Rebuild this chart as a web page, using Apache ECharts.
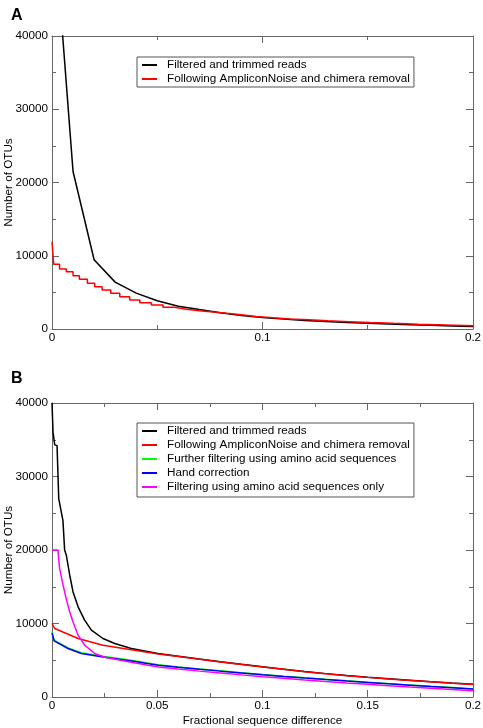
<!DOCTYPE html>
<html>
<head>
<meta charset="utf-8">
<script src="https://cdn.jsdelivr.net/npm/echarts@6/dist/echarts.min.js"></script>
<style>
html,body{margin:0;padding:0;background:#fff;}
#chart{width:483px;height:728px;}
</style>
</head>
<body>
<div id="chart"></div>
<script>
// ---------- Series names ----------
const nameBlack = 'Filtered and trimmed reads';
const nameRed = 'Following AmpliconNoise and chimera removal';
const nameGreen = 'Further filtering using amino acid sequences';
const nameBlue = 'Hand correction';
const nameMagenta = 'Filtering using amino acid sequences only';

// ---------- Panel A data ----------
const aBlackX = [0, 0.01, 0.02, 0.03, 0.04, 0.05, 0.06, 0.07, 0.08, 0.09, 0.10, 0.11, 0.12, 0.13, 0.14, 0.15, 0.16, 0.17, 0.18, 0.19, 0.20];
const aBlackY = [59000, 21500, 9450, 6400, 4900, 3850, 3100, 2650, 2230, 1850, 1560, 1350, 1170, 1010, 890, 780, 680, 590, 500, 420, 340];

const aRedX = [0, 0.0008, 0.0036, 0.0068, 0.010, 0.013, 0.0168, 0.0203, 0.0238, 0.0279, 0.0322, 0.0369, 0.0417, 0.0472, 0.0527, 0.0583, 0.0638, 0.070, 0.0765, 0.083, 0.090, 0.097, 0.105, 0.113, 0.122, 0.131, 0.141, 0.151, 0.162, 0.174, 0.187, 0.200];
const aRedY = [11920, 8830, 8190, 7820, 7280, 6780, 6240, 5780, 5320, 4870, 4410, 3960, 3590, 3280, 2960, 2690, 2500, 2330, 2140, 1950, 1700, 1520, 1380, 1250, 1120, 1000, 880, 770, 660, 550, 440, 330];

// ---------- Panel B data ----------
const bBlackX = [0, 0.0005, 0.0013, 0.0024, 0.0032, 0.0052, 0.0060, 0.0068, 0.0084, 0.0100, 0.0124, 0.0155, 0.0187, 0.0242, 0.0298, 0.0377, 0.0504, 0.06, 0.07, 0.08, 0.09, 0.10, 0.11, 0.12, 0.13, 0.14, 0.15, 0.16, 0.17, 0.18, 0.19, 0.20];
const bBlackY = [40000, 36000, 34300, 34200, 27000, 24000, 20000, 19300, 16600, 14300, 12270, 10460, 9090, 7960, 7280, 6600, 5920, 5560, 5170, 4800, 4450, 4120, 3790, 3470, 3180, 2930, 2700, 2480, 2280, 2090, 1900, 1730];

const bRedX = [0, 0.0013, 0.0124, 0.0242, 0.0504, 0.06, 0.07, 0.08, 0.09, 0.10, 0.11, 0.12, 0.13, 0.14, 0.15, 0.16, 0.17, 0.18, 0.19, 0.20];
const bRedY = [10000, 9320, 7960, 7050, 5850, 5500, 5120, 4760, 4420, 4090, 3760, 3440, 3150, 2900, 2670, 2450, 2250, 2060, 1870, 1700];

const bGreenX = [0, 0.001, 0.0076, 0.0139, 0.0242, 0.0377, 0.0504, 0.06, 0.07, 0.08, 0.09, 0.10, 0.11, 0.12, 0.13, 0.14, 0.15, 0.16, 0.17, 0.18, 0.19, 0.20];
const bGreenY = [8850, 7720, 6690, 6010, 5540, 4990, 4380, 4090, 3820, 3560, 3300, 3060, 2830, 2610, 2400, 2200, 2000, 1810, 1630, 1450, 1280, 1100];

const bBlueX = [0, 0.001, 0.0076, 0.0139, 0.0242, 0.0377, 0.0504, 0.06, 0.07, 0.08, 0.09, 0.10, 0.11, 0.12, 0.13, 0.14, 0.15, 0.16, 0.17, 0.18, 0.19, 0.20];
const bBlueY = [8700, 7640, 6600, 5910, 5450, 4910, 4320, 4050, 3780, 3520, 3270, 3030, 2800, 2580, 2370, 2170, 1980, 1790, 1610, 1430, 1260, 1080];

const bMagentaX = [0, 0.0028, 0.0036, 0.0052, 0.0068, 0.0084, 0.0100, 0.0124, 0.0155, 0.0203, 0.025, 0.0377, 0.0504, 0.06, 0.07, 0.08, 0.09, 0.10, 0.11, 0.12, 0.13, 0.14, 0.15, 0.16, 0.17, 0.18, 0.19, 0.20];
const bMagentaY = [20000, 20000, 17500, 15300, 13300, 11600, 10200, 8400, 7050, 5920, 5400, 4720, 4090, 3800, 3520, 3260, 3010, 2770, 2540, 2320, 2110, 1910, 1720, 1540, 1360, 1190, 1020, 850];

// ---------- tick settings ----------
const yMin = 0, yMax = 40000, yStep = 10000;
const aXMin = 0, aXMax = 0.2, aXStep = 0.1;
const bXMin = 0, bXMax = 0.2, bXStep = 0.05;

function pairs(xs, ys) { return xs.map((x, i) => [x, ys[i]]); }

const FONT = '"Liberation Sans", Arial, sans-serif';
const FS = 11.7;
const axisColor = '#666';

function xAx(grid, min, max, step, pos, showLabels, name) {
  return {
    type: 'value', gridIndex: grid, min: min, max: max, interval: step, position: pos,
    name: name || '', nameLocation: 'middle', nameGap: 18, nameMoveOverlap: false,
    nameTextStyle: { color: '#000', fontSize: FS, fontFamily: FONT },
    axisLine: { show: true, onZero: false, lineStyle: { color: axisColor, width: 1 } },
    axisTick: { show: true, inside: true, length: 7, lineStyle: { color: axisColor } },
    minorTick: { show: true, splitNumber: 2, length: 4, lineStyle: { color: axisColor } },
    axisLabel: { show: showLabels, color: '#000', fontSize: FS, fontFamily: FONT, margin: 3,
      formatter: v => String(parseFloat(v.toFixed(4))) },
    splitLine: { show: false }
  };
}
function yAx(grid, pos, showLabels, name) {
  return {
    type: 'value', gridIndex: grid, min: yMin, max: yMax, interval: yStep, position: pos,
    name: name || '', nameLocation: 'middle', nameGap: 37, nameMoveOverlap: false,
    nameTextStyle: { color: '#000', fontSize: FS, fontFamily: FONT },
    axisLine: { show: true, onZero: false, lineStyle: { color: axisColor, width: 1 } },
    axisTick: { show: true, inside: true, length: 7, lineStyle: { color: axisColor } },
    minorTick: { show: true, splitNumber: 2, length: 4, lineStyle: { color: axisColor } },
    axisLabel: { show: showLabels, color: '#000', fontSize: FS, fontFamily: FONT, margin: 4,
      formatter: v => String(Math.round(v)) },
    splitLine: { show: false }
  };
}
function lineSeries(name, color, data, xi, yi, step) {
  return {
    name: name, type: 'line', xAxisIndex: xi, yAxisIndex: yi, data: data,
    showSymbol: false, symbol: 'none', step: step || false, clip: true,
    color: color, lineStyle: { color: color, width: 1.5 }, animation: false
  };
}
function legendBox(names, top, pad) {
  return {
    data: names, orient: 'vertical', left: 137, top: top,
    backgroundColor: '#fff', borderColor: '#555', borderWidth: 1,
    padding: pad, itemGap: 2, itemWidth: 15, itemHeight: 2, icon: 'rect',
    selectedMode: false,
    textStyle: { color: '#000', fontSize: FS, fontFamily: FONT, padding: [0, 0, 0, 5] }
  };
}

const chart = echarts.init(document.getElementById('chart'), null, { renderer: 'canvas' });
chart.setOption({
  backgroundColor: '#fff',
  animation: false,
  title: [
    { text: 'A', left: 6, top: 3, textStyle: { fontSize: 16, fontWeight: 'bold', color: '#000', fontFamily: FONT } },
    { text: 'B', left: 6, top: 366, textStyle: { fontSize: 16, fontWeight: 'bold', color: '#000', fontFamily: FONT } }
  ],
  grid: [
    { left: 52, top: 36, width: 421, height: 293, containLabel: false, outerBoundsMode: 'none' },
    { left: 52, top: 403, width: 421, height: 294, containLabel: false, outerBoundsMode: 'none' }
  ],
  xAxis: [
    xAx(0, aXMin, aXMax, aXStep, 'bottom', true),
    xAx(0, aXMin, aXMax, aXStep, 'top', false),
    xAx(1, bXMin, bXMax, bXStep, 'bottom', true, 'Fractional sequence difference'),
    xAx(1, bXMin, bXMax, bXStep, 'top', false)
  ],
  yAxis: [
    yAx(0, 'left', true, 'Number of OTUs'),
    yAx(0, 'right', false),
    yAx(1, 'left', true, 'Number of OTUs'),
    yAx(1, 'right', false)
  ],
  legend: [
    legendBox([nameBlack, nameRed], 57, [2, 4, 2, 5]),
    legendBox([nameBlack, nameRed, nameGreen, nameBlue, nameMagenta], 423, [2, 4, 4, 5])
  ],
  series: [
    lineSeries(nameBlack, '#000000', pairs(aBlackX, aBlackY), 0, 0),
    lineSeries(nameRed, '#ff0000', pairs(aRedX, aRedY), 0, 0, 'end'),
    lineSeries(nameBlack, '#000000', pairs(bBlackX, bBlackY), 2, 2),
    lineSeries(nameRed, '#ff0000', pairs(bRedX, bRedY), 2, 2),
    lineSeries(nameGreen, '#00ff00', pairs(bGreenX, bGreenY), 2, 2),
    lineSeries(nameBlue, '#0000ff', pairs(bBlueX, bBlueY), 2, 2),
    lineSeries(nameMagenta, '#ff00ff', pairs(bMagentaX, bMagentaY), 2, 2)
  ]
});
</script>
</body>
</html>
